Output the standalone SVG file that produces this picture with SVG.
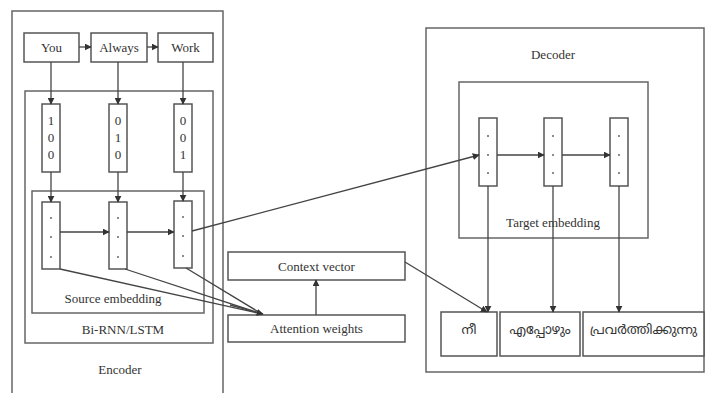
<svg xmlns="http://www.w3.org/2000/svg" width="707" height="393" viewBox="0 0 707 393">
<defs>
<marker id="ah" viewBox="0 0 10 10" refX="9" refY="5" markerWidth="7" markerHeight="7" markerUnits="userSpaceOnUse" orient="auto"><path d="M0,0 L10,5 L0,10 z" fill="#333"/></marker>
</defs>
<style>
.box{fill:#fff;stroke:#555;stroke-width:1.5}
.frame{fill:none;stroke:#666;stroke-width:1.5}
.t{font-family:"Liberation Serif",serif;font-size:13px;fill:#333;text-anchor:middle}
.ml{font-family:"Noto Sans Malayalam","Noto Sans",sans-serif;font-size:13px;fill:#333;text-anchor:middle}
.d{fill:#666}
.c{stroke:#444;stroke-width:1.3;fill:none;marker-end:url(#ah)}
.l{stroke:#444;stroke-width:1.3;fill:none}
</style>
<rect width="707" height="393" fill="#fff"/>

<g id="encoder">
<path class="frame" d="M12,393 V11 H223 V393"/>
<text class="t" x="120" y="374">Encoder</text>
</g>
<g id="birnn">
<rect class="frame" x="25" y="91" width="188" height="252"/>
<text class="t" x="123" y="334">Bi-RNN/LSTM</text>
</g>
<g id="source-embedding">
<rect class="frame" x="32" y="191" width="172" height="122"/>
<text class="t" x="113" y="303">Source embedding</text>
</g>
<g id="decoder">
<rect class="frame" x="426" y="28" width="278" height="344"/>
<text class="t" x="553" y="59">Decoder</text>
</g>
<g id="target-embedding">
<rect class="frame" x="459" y="82" width="189" height="156"/>
<text class="t" x="553" y="227">Target embedding</text>
</g>

<g id="you"><rect class="box" x="24" y="33" width="55" height="29"/><text class="t" x="51.5" y="52">You</text></g>
<g id="always"><rect class="box" x="91" y="33" width="56" height="29"/><text class="t" x="119" y="52">Always</text></g>
<g id="work"><rect class="box" x="158" y="33" width="55" height="29"/><text class="t" x="185.5" y="52">Work</text></g>

<g id="onehot1"><rect class="box" x="42" y="104" width="18" height="68"/><text class="t" x="51" y="125">1</text><text class="t" x="51" y="142">0</text><text class="t" x="51" y="159">0</text></g>
<g id="onehot2"><rect class="box" x="109" y="104" width="18" height="68"/><text class="t" x="118" y="125">0</text><text class="t" x="118" y="142">1</text><text class="t" x="118" y="159">0</text></g>
<g id="onehot3"><rect class="box" x="174" y="104" width="18" height="68"/><text class="t" x="183" y="125">0</text><text class="t" x="183" y="142">0</text><text class="t" x="183" y="159">1</text></g>

<g id="src1"><rect class="box" x="42" y="202" width="18" height="67"/><circle class="d" cx="51" cy="218" r="1"/><circle class="d" cx="51" cy="237" r="1"/><circle class="d" cx="51" cy="257" r="1"/></g>
<g id="src2"><rect class="box" x="109" y="202" width="18" height="67"/><circle class="d" cx="118" cy="218" r="1"/><circle class="d" cx="118" cy="237" r="1"/><circle class="d" cx="118" cy="257" r="1"/></g>
<g id="src3"><rect class="box" x="174" y="201" width="18" height="67"/><circle class="d" cx="183" cy="217" r="1"/><circle class="d" cx="183" cy="236" r="1"/><circle class="d" cx="183" cy="256" r="1"/></g>

<g id="context-vector"><rect class="box" x="228" y="252" width="177" height="28"/><text class="t" x="316.5" y="271">Context vector</text></g>
<g id="attention-weights"><rect class="box" x="228" y="315" width="177" height="27"/><text class="t" x="316.5" y="333">Attention weights</text></g>

<g id="tgt1"><rect class="box" x="479" y="118" width="18" height="68"/><circle class="d" cx="488" cy="136" r="1"/><circle class="d" cx="488" cy="155" r="1"/><circle class="d" cx="488" cy="173" r="1"/></g>
<g id="tgt2"><rect class="box" x="544" y="118" width="18" height="68"/><circle class="d" cx="553" cy="136" r="1"/><circle class="d" cx="553" cy="155" r="1"/><circle class="d" cx="553" cy="173" r="1"/></g>
<g id="tgt3"><rect class="box" x="610" y="118" width="18" height="68"/><circle class="d" cx="619" cy="136" r="1"/><circle class="d" cx="619" cy="155" r="1"/><circle class="d" cx="619" cy="173" r="1"/></g>

<g id="out1"><rect class="box" x="441" y="312" width="56" height="44"/><text class="ml" x="469" y="334">നീ</text></g>
<g id="out2"><rect class="box" x="500" y="312" width="80" height="44"/><text class="ml" x="540" y="334">എപ്പോഴും</text></g>
<g id="out3"><rect class="box" x="583" y="312" width="121" height="44"/><text class="ml" x="643.5" y="334">പ്രവർത്തിക്കുന്നു</text></g>

<g id="connectors">
<line class="c" x1="79" y1="47" x2="91" y2="47"/>
<line class="c" x1="147" y1="47" x2="158" y2="47"/>
<line class="c" x1="51" y1="62" x2="51" y2="104"/>
<line class="c" x1="118" y1="62" x2="118" y2="104"/>
<line class="c" x1="183" y1="62" x2="183" y2="104"/>
<line class="c" x1="51" y1="172" x2="51" y2="202"/>
<line class="c" x1="118" y1="172" x2="118" y2="202"/>
<line class="c" x1="183" y1="172" x2="183" y2="201"/>
<line class="c" x1="60" y1="232" x2="109" y2="232"/>
<line class="c" x1="127" y1="232" x2="174" y2="232"/>
<line class="l" x1="60" y1="269" x2="262" y2="314"/>
<line class="l" x1="125" y1="269" x2="262" y2="314"/>
<line class="l" x1="186" y1="268" x2="262" y2="314"/>
<line class="c" x1="230" y1="305" x2="263" y2="314"/>
<line class="c" x1="316" y1="315" x2="316" y2="280"/>
<line class="c" x1="192" y1="231" x2="479" y2="155"/>
<line class="c" x1="405" y1="262" x2="487" y2="312"/>
<line class="c" x1="497" y1="155" x2="544" y2="155"/>
<line class="c" x1="562" y1="155" x2="610" y2="155"/>
<line class="c" x1="488" y1="186" x2="488" y2="312"/>
<line class="c" x1="553" y1="186" x2="553" y2="312"/>
<line class="c" x1="619" y1="186" x2="619" y2="312"/>
</g>
</svg>
